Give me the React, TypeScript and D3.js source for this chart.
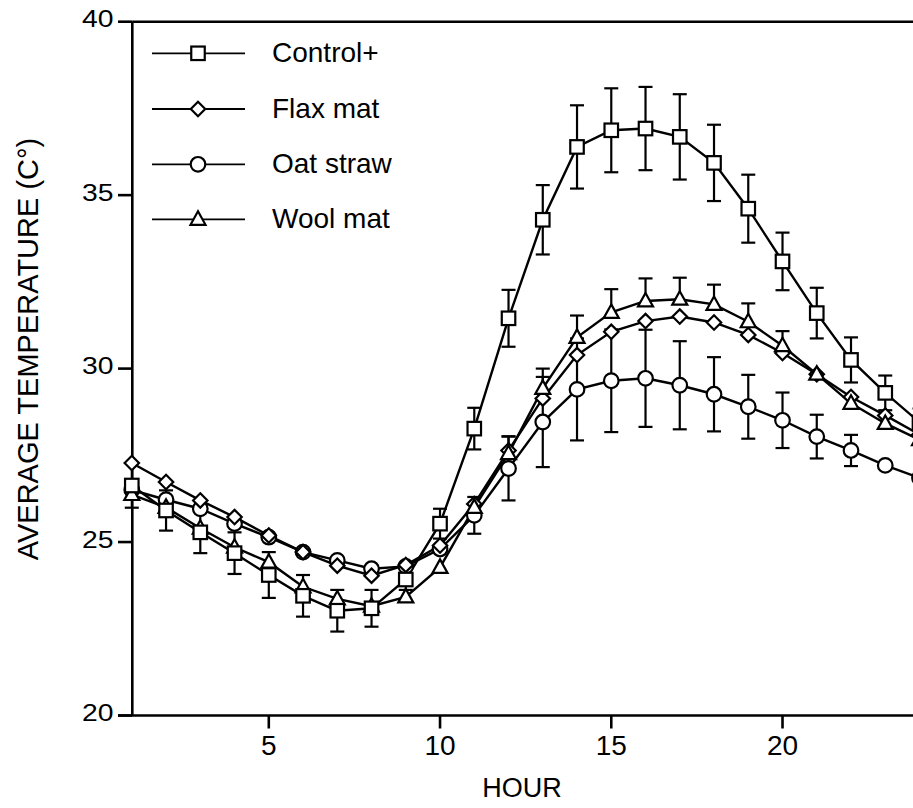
import React from 'react';
import * as d3 from 'd3';

const hours = [1, 2, 3, 4, 5, 6, 7, 8, 9, 10, 11, 12, 13, 14, 15, 16, 17, 18, 19, 20, 21, 22, 23, 24];

const control = [26.63, 25.91, 25.28, 24.68, 24.05, 23.45, 23.02, 23.09, 23.92, 25.53, 28.27, 31.45, 34.29, 36.39, 36.87, 36.92, 36.68, 35.93, 34.61, 33.09, 31.6, 30.25, 29.3, 28.45];
const controlErr = [0.64, 0.58, 0.6, 0.6, 0.66, 0.6, 0.6, 0.53, 0.3, 0.43, 0.6, 0.82, 1.0, 1.2, 1.21, 1.2, 1.23, 1.1, 0.98, 0.83, 0.73, 0.65, 0.5, 0.4];
const flax = [27.28, 26.73, 26.2, 25.72, 25.19, 24.71, 24.32, 24.03, 24.34, 24.9, 26.1, 27.64, 29.14, 30.39, 31.06, 31.37, 31.5, 31.33, 30.97, 30.45, 29.84, 29.18, 28.65, 28.1];
const oat = [26.5, 26.22, 25.96, 25.53, 25.14, 24.71, 24.47, 24.23, 24.3, 24.8, 25.77, 27.12, 28.46, 29.4, 29.65, 29.72, 29.52, 29.26, 28.9, 28.51, 28.04, 27.64, 27.21, 26.85];
const oatErr = [0, 0, 0, 0, 0, 0, 0, 0, 0, 0, 0.53, 0.92, 1.3, 1.47, 1.48, 1.4, 1.27, 1.07, 0.92, 0.8, 0.63, 0.45, 0, 0];
const wool = [26.37, 26.0, 25.4, 24.85, 24.42, 23.71, 23.36, 23.15, 23.42, 24.27, 26.0, 27.55, 29.43, 30.9, 31.62, 31.95, 32.0, 31.85, 31.35, 30.66, 29.84, 29.0, 28.42, 27.95];
const woolErrUp = [0, 0, 0, 0, 0, 0, 0, 0, 0, 0, 0, 0.5, 0.57, 0.63, 0.67, 0.65, 0.62, 0.57, 0.53, 0.42, 0, 0, 0, 0];

const yTicks = [20, 25, 30, 35, 40];
const xTicks = [5, 10, 15, 20];
const legendNames = ['Control+', 'Flax mat', 'Oat straw', 'Wool mat'];
const legendShapes = ['square', 'diamond', 'circle', 'triangle'];

const W = 913;
const H = 808;
const left = 132.3;
const top = 21.7;
const bottom = 715.5;
const FONT = '"Liberation Sans", Arial, Helvetica, sans-serif';

const x = d3.scaleLinear().domain([1, 24]).range([131.8, 919.5]);
const y = d3.scaleLinear().domain([20, 40]).range([bottom, top]);

function Marker({ shape, cx, cy }: { shape: string; cx: number; cy: number }) {
  const common = { fill: '#fff', stroke: '#000', strokeWidth: 2.2 };
  if (shape === 'square') {
    const s = 13.5;
    return <rect x={cx - s / 2} y={cy - s / 2} width={s} height={s} {...common} />;
  }
  if (shape === 'diamond') {
    const r = 7.2;
    return <path d={`M${cx},${cy - r}L${cx + r},${cy}L${cx},${cy + r}L${cx - r},${cy}Z`} {...common} />;
  }
  if (shape === 'circle') {
    return <circle cx={cx} cy={cy} r={7.3} {...common} />;
  }
  const hw = 7.5;
  return <path d={`M${cx},${cy - 8}L${cx + hw},${cy + 5.5}L${cx - hw},${cy + 5.5}Z`} {...common} strokeLinejoin="miter" />;
}

export default function App() {
  const line = d3
    .line<number>()
    .x((_, i) => x(hours[i]))
    .y((d) => y(d));

  const series = [
    { vals: oat, shape: 'circle' },
    { vals: flax, shape: 'diamond' },
    { vals: wool, shape: 'triangle' },
    { vals: control, shape: 'square' },
  ];

  const cap = 7;
  const errBars: React.ReactNode[] = [];
  hours.forEach((h, i) => {
    const cx = x(h);
    const ce = controlErr[i];
    if (ce > 0) {
      const y1 = y(control[i] + ce);
      const y2 = y(control[i] - ce);
      errBars.push(
        <g key={`c${i}`}>
          <line x1={cx} x2={cx} y1={y1} y2={y2} />
          <line x1={cx - cap} x2={cx + cap} y1={y1} y2={y1} />
          <line x1={cx - cap} x2={cx + cap} y1={y2} y2={y2} />
        </g>
      );
    }
    const oe = oatErr[i];
    if (oe > 0) {
      const y1 = y(oat[i] + oe);
      const y2 = y(oat[i] - oe);
      errBars.push(
        <g key={`o${i}`}>
          <line x1={cx} x2={cx} y1={y1} y2={y2} />
          <line x1={cx - cap} x2={cx + cap} y1={y1} y2={y1} />
          <line x1={cx - cap} x2={cx + cap} y1={y2} y2={y2} />
        </g>
      );
    }
    const we = woolErrUp[i];
    if (we > 0) {
      const y1 = y(wool[i] + we);
      errBars.push(
        <g key={`w${i}`}>
          <line x1={cx} x2={cx} y1={y1} y2={y(wool[i])} />
          <line x1={cx - cap} x2={cx + cap} y1={y1} y2={y1} />
        </g>
      );
    }
  });

  const legendRows = [53.3, 109, 164.3, 219.3];

  return (
    <svg width={W} height={H} style={{ position: 'absolute', left: 0, top: 0, background: '#fff' }} fontFamily={FONT}>
      <rect x={0} y={0} width={W} height={H} fill="#fff" />
      {/* axes */}
      <g stroke="#000" strokeWidth={2.6} fill="none">
        <line x1={left} x2={left} y1={top} y2={bottom} />
        <line x1={118} x2={W} y1={bottom} y2={bottom} />
        <line x1={left} x2={W} y1={top} y2={top} />
        {yTicks.map((t) => (
          <line key={t} x1={118} x2={left} y1={y(t)} y2={y(t)} />
        ))}
        {xTicks.map((t) => (
          <line key={t} x1={x(t)} x2={x(t)} y1={bottom} y2={bottom + 13} />
        ))}
      </g>
      {yTicks.map((t) => (
        <text
          key={t}
          transform={`translate(113.5,${y(t) + 5.5}) scale(1.18,1)`}
          textAnchor="end"
          fontSize={24}
          fill="#000"
        >
          {t}
        </text>
      ))}
      {xTicks.map((t) => (
        <text key={t} x={x(t)} y={755} textAnchor="middle" fontSize={28} fill="#000">
          {t}
        </text>
      ))}
      <text x={522} y={797} textAnchor="middle" fontSize={27} fill="#000">
        HOUR
      </text>
      <text transform="translate(38,349) rotate(-90)" textAnchor="middle" fontSize={29} fill="#000">
        AVERAGE TEMPERATURE (C°)
      </text>

      {/* error bars */}
      <g stroke="#000" strokeWidth={2.2}>{errBars}</g>

      {/* lines */}
      <g fill="none" stroke="#000" strokeWidth={2.4}>
        {series.map((s, k) => (
          <path key={k} d={line(s.vals) || ''} />
        ))}
      </g>

      {/* markers */}
      {series.map((s, k) => (
        <g key={k}>
          {s.vals.map((v, i) => (
            <Marker key={i} shape={s.shape} cx={x(hours[i])} cy={y(v)} />
          ))}
        </g>
      ))}

      {/* legend */}
      {legendNames.map((name, i) => (
        <g key={name}>
          <line x1={152} x2={245} y1={legendRows[i]} y2={legendRows[i]} stroke="#000" strokeWidth={1.8} />
          <Marker shape={legendShapes[i]} cx={198} cy={legendRows[i]} />
          <text x={272} y={legendRows[i] + 8.5} fontSize={28} fill="#000">
            {name}
          </text>
        </g>
      ))}
    </svg>
  );
}
